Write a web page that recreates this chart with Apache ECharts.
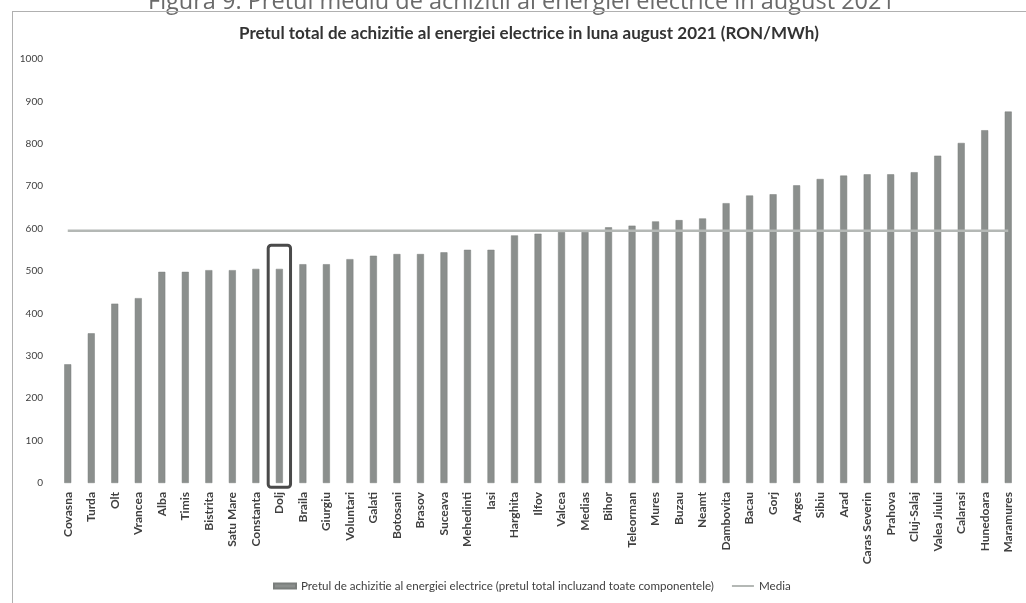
<!DOCTYPE html>
<html>
<head>
<meta charset="utf-8">
<script src="https://cdn.jsdelivr.net/npm/echarts@6/dist/echarts.min.js"></script>
<style>
html,body{margin:0;padding:0;background:#fff;}
#chart{width:1026px;height:603px;}
</style>
</head>
<body>
<div id="chart"></div>
<script>
const categories = ["Covasna","Turda","Olt","Vrancea","Alba","Timis","Bistrita","Satu Mare","Constanta","Dolj","Braila","Giurgiu","Voluntari","Galati","Botosani","Brasov","Suceava","Mehedinti","Iasi","Harghita","Ilfov","Valcea","Medias","Bihor","Teleorman","Mures","Buzau","Neamt","Dambovita","Bacau","Gorj","Arges","Sibiu","Arad","Caras Severin","Prahova","Cluj-Salaj","Valea Jiului","Calarasi","Hunedoara","Maramures"];
const pretValues = [280,353,423,436,498,498,502,502,505,505,516,516,528,536,540,540,544,550,550,584,588,592,592,603,607,617,620,624,660,678,681,702,717,725,728,728,733,772,802,832,876];
const mediaValues = [595,595,595,595,595,595,595,595,595,595,595,595,595,595,595,595,595,595,595,595,595,595,595,595,595,595,595,595,595,595,595,595,595,595,595,595,595,595,595,595,595];
const highlight = [["Dolj", -10, 561]];
const yTicks = [0,100,200,300,400,500,600,700,800,900,1000];

const chart = echarts.init(document.getElementById('chart'), null, {renderer:'canvas'});
const option = {
  backgroundColor:'#ffffff',
  animation:false,
  title:{
    text:'Pretul total de achizitie al energiei electrice in luna august 2021 (RON/MWh)',
    left:234, top:20,
    textStyle:{fontFamily:'Lato', fontSize:17, fontWeight:'bold', color:'#333333'}
  },
  graphic:[
    {type:'text', left:148, top:-10, style:{text:'Figura 9: Pretul mediu de achizitii al energiei electrice in august 2021', font:'23.5px "Open Sans"', fill:'#6a6a6a'}},
    {type:'line', shape:{x1:12,y1:11.5,x2:1026,y2:11.5}, style:{stroke:'#b0b0b0', lineWidth:1}},
    {type:'line', shape:{x1:12.5,y1:11,x2:12.5,y2:603}, style:{stroke:'#b0b0b0', lineWidth:1}}
  ],
  legend:{
    bottom:6, left:268, itemGap:18,
    itemWidth:22, itemHeight:5,
    textStyle:{fontFamily:'Lato', fontSize:11.6, color:'#404040'},
    data:[
      {name:'Pretul de achizitie al energiei electrice (pretul total incluzand toate componentele)', icon:'rect'},
      {name:'Media', icon:'path://M0,0h22v2h-22z'}
    ]
  },
  grid:{left:56, right:6, top:59, bottom:120},
  xAxis:{
    type:'category', data:categories, boundaryGap:true,
    axisLine:{show:false}, axisTick:{show:false},
    axisLabel:{interval:0, rotate:90, margin:9, fontFamily:'Lato', fontSize:12, fontWeight:'bold', color:'#404040'}
  },
  yAxis:{
    type:'value', min:0, max:1000, interval:100,
    axisLine:{show:false}, axisTick:{show:false}, splitLine:{show:false},
    axisLabel:{margin:13, fontFamily:'Lato', fontSize:10, color:'#404040',
      formatter:function(v){return yTicks.indexOf(v)>=0?String(v):'';}}
  },
  series:[
    {
      name:'Pretul de achizitie al energiei electrice (pretul total incluzand toate componentele)',
      type:'bar', data:pretValues, barWidth:7,
      itemStyle:{color:'#8b8f8d', borderColor:'#7a7e7c', borderWidth:0.5}
    },
    {
      name:'Media', type:'line', data:mediaValues, symbol:'none',
      lineStyle:{color:'#b4b8b5', width:2.5},
      itemStyle:{color:'#b4b8b5'}, z:3
    },
    {
      name:'highlight', type:'custom', data:highlight, z:4, silent:true, clip:false,
      encode:{x:0, y:[1,2]},
      renderItem:function(params, api){
        const c = api.value(0);
        const p1 = api.coord([c, api.value(1)]);
        const p2 = api.coord([c, api.value(2)]);
        const bw = api.size([1,0])[0]*0.95;
        return {type:'rect', shape:{x:p1[0]-bw/2, y:p2[1], width:bw, height:p1[1]-p2[1], r:3},
          style:{fill:'none', stroke:'#4a4a4a', lineWidth:3}};
      }
    }
  ]
};
chart.setOption(option);
</script>
</body>
</html>
